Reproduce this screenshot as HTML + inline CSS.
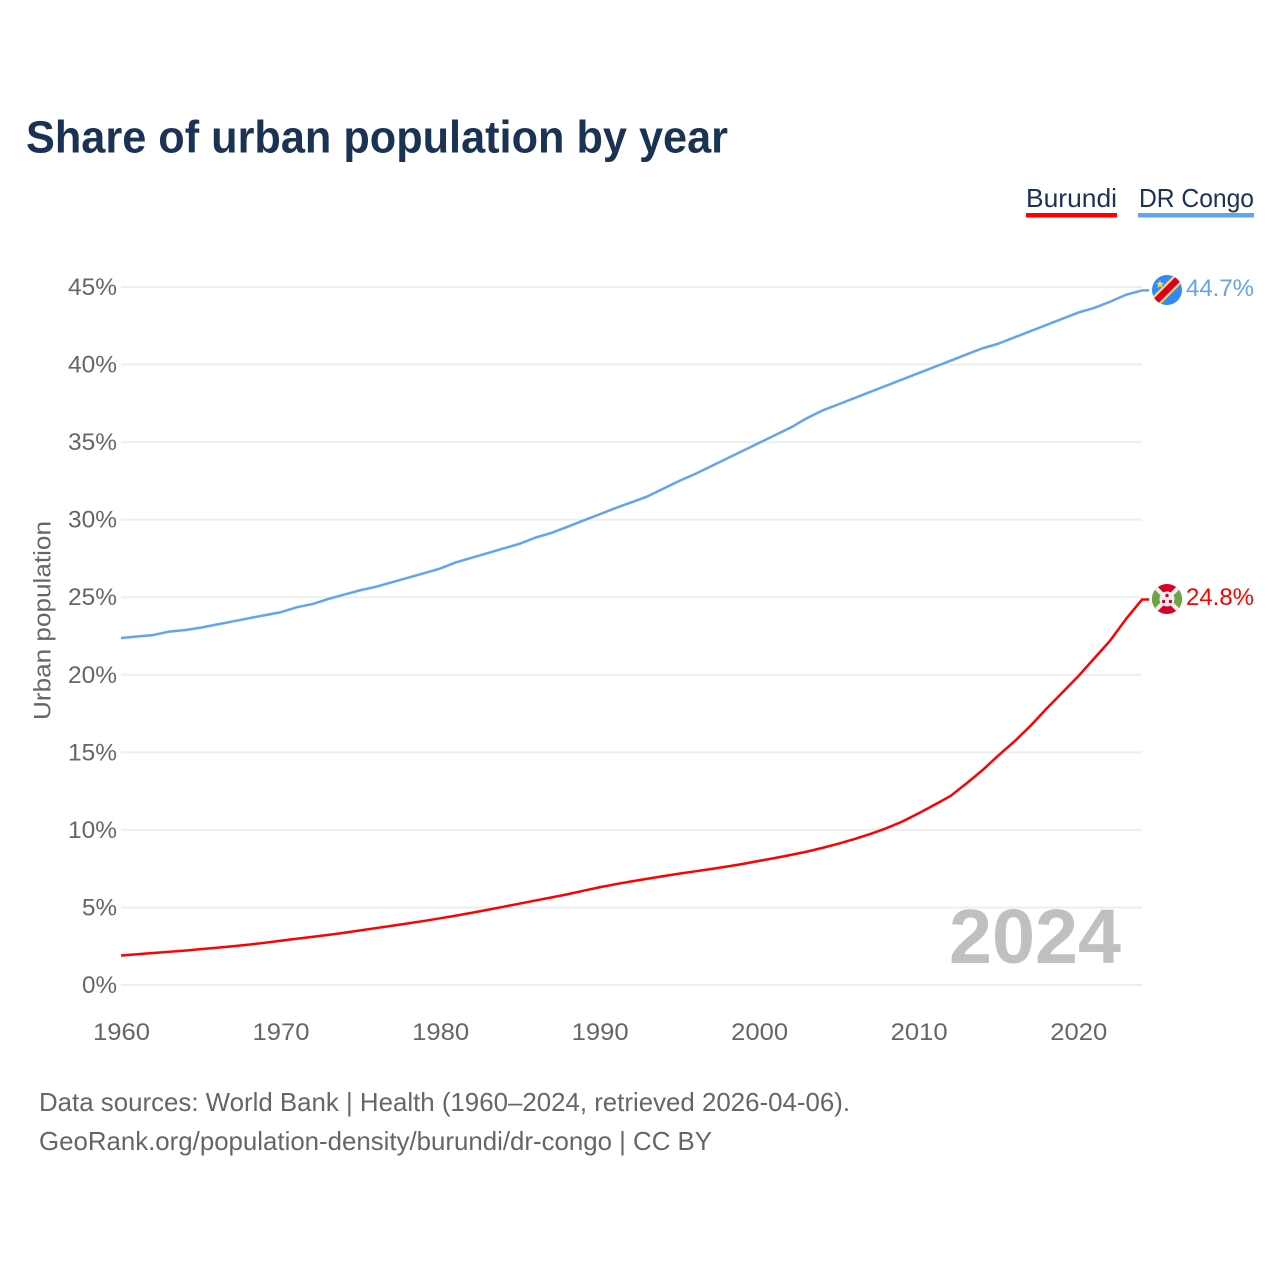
<!DOCTYPE html>
<html lang="en">
<head>
<meta charset="utf-8">
<title>Share of urban population by year</title>
<style>
html,body{margin:0;padding:0;background:#fff;width:1280px;height:1280px;overflow:hidden}
svg{display:block;font-family:"Liberation Sans",sans-serif}
</style>
</head>
<body>
<svg id="chart" width="1280" height="1280" viewBox="0 0 1280 1280" xmlns="http://www.w3.org/2000/svg">
  <rect width="1280" height="1280" fill="#fff"/>
  <text x="26" y="152.5" font-size="45" font-weight="700" fill="#1a3253" textLength="702" lengthAdjust="spacingAndGlyphs">Share of urban population by year</text>

  <g>
    <text x="1026" y="207" font-size="26" fill="#1a3253" textLength="91" lengthAdjust="spacingAndGlyphs">Burundi</text>
    <rect x="1026" y="213" width="91" height="4.5" fill="#ff0000"/>
  </g>
  <g>
    <text x="1139" y="207" font-size="26" fill="#1a3253" textLength="115" lengthAdjust="spacingAndGlyphs">DR Congo</text>
    <rect x="1138" y="213" width="116" height="4.5" fill="#63a5ec"/>
  </g>

  <g id="grid"></g>
  <g id="yticks"></g>
  <g id="xticks"></g>
  <text transform="translate(50.5,720) rotate(-90)" font-size="24" fill="#666" textLength="199" lengthAdjust="spacingAndGlyphs">Urban population</text>

  <text x="949" y="963" font-size="77" font-weight="700" fill="#c0c0c0" textLength="172" lengthAdjust="spacingAndGlyphs">2024</text>

  <g id="series"></g>

  <defs>
    <clipPath id="flag-clip-cd"><circle cx="1167" cy="290" r="15"/></clipPath>
    <clipPath id="flag-clip-bi"><circle cx="1167" cy="599" r="15"/></clipPath>
  </defs>
  <g clip-path="url(#flag-clip-cd)">
    <rect x="1152" y="275" width="30" height="30" fill="#338af3"/>
    <line x1="1152" y1="305" x2="1182" y2="275" stroke="#ffda44" stroke-width="11"/>
    <line x1="1152" y1="305" x2="1182" y2="275" stroke="#d80027" stroke-width="6.5"/>
    <polygon points="1160,280 1161.2,283 1164.2,283 1161.8,284.9 1162.7,288 1160,286.2 1157.3,288 1158.2,284.9 1155.8,283 1158.8,283" fill="#ffda44"/>
  </g>
  <g clip-path="url(#flag-clip-bi)">
    <rect x="1152" y="584" width="30" height="30" fill="#d80027"/>
    <polygon points="1152,584 1167,599 1152,614" fill="#6da544"/>
    <polygon points="1182,584 1167,599 1182,614" fill="#6da544"/>
    <line x1="1152" y1="584" x2="1182" y2="614" stroke="#f0f0f0" stroke-width="4"/>
    <line x1="1182" y1="584" x2="1152" y2="614" stroke="#f0f0f0" stroke-width="4"/>
    <circle cx="1167" cy="599" r="7.5" fill="#f0f0f0"/>
    <circle cx="1167" cy="595.5" r="1.7" fill="#d80027"/>
    <circle cx="1163.6" cy="601.5" r="1.7" fill="#d80027"/>
    <circle cx="1170.4" cy="601.5" r="1.7" fill="#d80027"/>
  </g>

  <text x="1186" y="296" font-size="24" fill="#63a5ec" textLength="68" lengthAdjust="spacingAndGlyphs">44.7%</text>
  <text x="1186" y="605" font-size="24" fill="#ff0000" textLength="68" lengthAdjust="spacingAndGlyphs">24.8%</text>

  <text x="39" y="1111" font-size="26" fill="#666" textLength="811" lengthAdjust="spacingAndGlyphs">Data sources: World Bank | Health (1960–2024, retrieved 2026-04-06).</text>
  <text x="39" y="1150" font-size="26" fill="#666" textLength="673" lengthAdjust="spacingAndGlyphs">GeoRank.org/population-density/burundi/dr-congo | CC BY</text>
</svg>
<script>
const years = [];
for (let y = 1960; y <= 2024; y++) years.push(y);
const burundiValues = [1.9,1.98,2.06,2.14,2.22,2.31,2.4,2.5,2.6,2.72,2.85,2.98,3.1,3.23,3.37,3.52,3.67,3.82,3.97,4.13,4.3,4.47,4.66,4.85,5.05,5.25,5.45,5.65,5.85,6.08,6.3,6.5,6.68,6.85,7.02,7.18,7.33,7.48,7.64,7.81,8.0,8.19,8.39,8.6,8.85,9.12,9.42,9.75,10.12,10.55,11.07,11.62,12.19,13.0,13.85,14.8,15.7,16.7,17.8,18.85,19.9,21.05,22.2,23.6,24.85];
const drCongoValues = [22.37,22.47,22.56,22.78,22.88,23.04,23.24,23.44,23.64,23.84,24.03,24.35,24.56,24.89,25.17,25.45,25.68,25.97,26.26,26.55,26.85,27.25,27.55,27.85,28.15,28.45,28.85,29.15,29.55,29.95,30.35,30.75,31.12,31.5,32.0,32.5,32.95,33.45,33.95,34.45,34.95,35.45,35.95,36.55,37.05,37.45,37.85,38.25,38.65,39.05,39.45,39.85,40.25,40.65,41.05,41.35,41.75,42.15,42.55,42.95,43.35,43.65,44.05,44.5,44.78];
const yTickValues = [0,5,10,15,20,25,30,35,40,45];
const yTickLabels = ["0%","5%","10%","15%","20%","25%","30%","35%","40%","45%"];
const xTickValues = [1960,1970,1980,1990,2000,2010,2020];
const xTickLabels = ["1960","1970","1980","1990","2000","2010","2020"];

const NS = "http://www.w3.org/2000/svg";
function xScale(year){ return 121 + (year - 1960) * (1142 - 121) / 64; }
function yScale(v){ return 985 - v * (985 - 287) / 45; }

const grid = document.getElementById('grid');
const yticks = document.getElementById('yticks');
const xticks = document.getElementById('xticks');
const series = document.getElementById('series');

yTickValues.forEach(function(v, i){
  const gy = yScale(v);
  const line = document.createElementNS(NS, 'line');
  
  
  line.setAttribute('x1', 121);
  line.setAttribute('x2', 1142);
  line.setAttribute('y1', gy);
  line.setAttribute('y2', gy);
  line.setAttribute('stroke', '#eeeeee');
  line.setAttribute('stroke-width', 2);
  grid.appendChild(line);

  const label = document.createElementNS(NS, 'text');
  
  
  label.setAttribute('x', 117);
  label.setAttribute('y', gy + 8);
  label.setAttribute('text-anchor', 'end');
  label.setAttribute('font-size', 24);
  label.setAttribute('fill', '#666');
  label.setAttribute('textLength', yTickLabels[i].length === 3 ? 49 : 35);
  label.setAttribute('lengthAdjust', 'spacingAndGlyphs');
  label.textContent = yTickLabels[i];
  yticks.appendChild(label);
});

xTickValues.forEach(function(v, i){
  const label = document.createElementNS(NS, 'text');
  
  
  label.setAttribute('x', xScale(v) + 0.5);
  label.setAttribute('y', 1040);
  label.setAttribute('text-anchor', 'middle');
  label.setAttribute('font-size', 24);
  label.setAttribute('fill', '#666');
  label.setAttribute('textLength', 57);
  label.setAttribute('lengthAdjust', 'spacingAndGlyphs');
  label.textContent = xTickLabels[i];
  xticks.appendChild(label);
});

function pathFor(values){
  let d = '';
  values.forEach(function(v, i){
    d += (i ? 'L' : 'M') + xScale(years[i]).toFixed(2) + ' ' + yScale(v).toFixed(2);
  });
  const last = values[values.length - 1];
  return d + 'L1149 ' + yScale(last).toFixed(2);
}

const burundiLine = document.createElementNS(NS, 'path');


burundiLine.setAttribute('d', pathFor(burundiValues));
burundiLine.setAttribute('fill', 'none');
burundiLine.setAttribute('stroke', '#ff0000');
burundiLine.setAttribute('stroke-width', 2.5);
burundiLine.setAttribute('stroke-linejoin', 'round');
series.appendChild(burundiLine);

const congoLine = document.createElementNS(NS, 'path');


congoLine.setAttribute('d', pathFor(drCongoValues));
congoLine.setAttribute('fill', 'none');
congoLine.setAttribute('stroke', '#63a5ec');
congoLine.setAttribute('stroke-width', 2.5);
congoLine.setAttribute('stroke-linejoin', 'round');
series.appendChild(congoLine);
</script>
</body>
</html>
